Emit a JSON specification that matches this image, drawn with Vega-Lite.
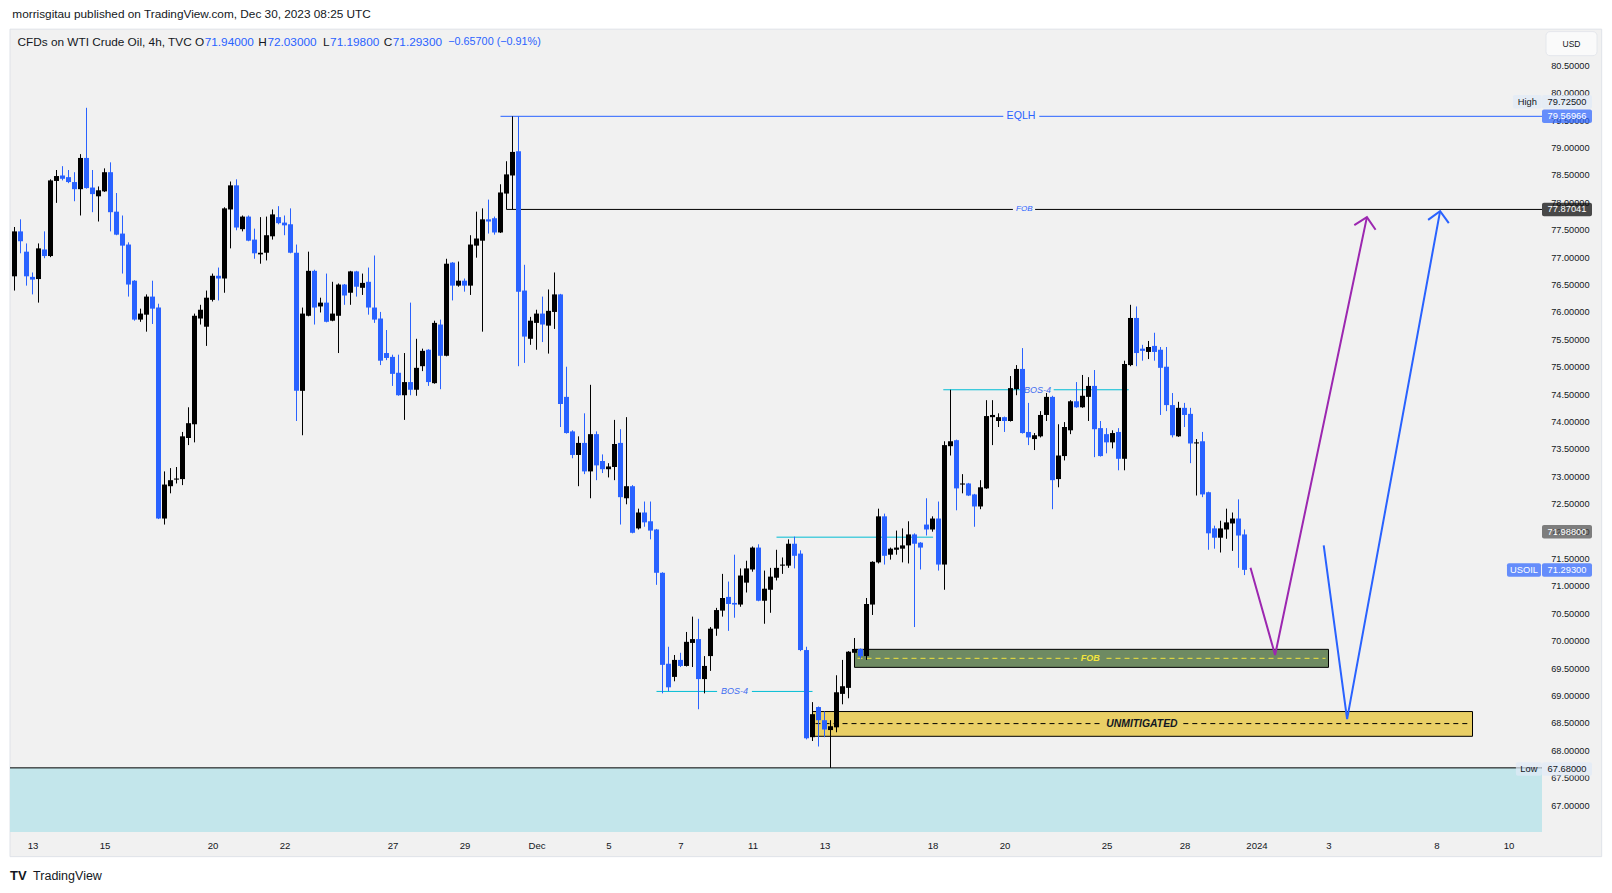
{
"$schema":"https://vega.github.io/schema/vega-lite/v6.json",
"width":1532,"height":802,
"autosize":{"type":"none"},
"padding":{"left":10,"top":30,"right":70,"bottom":61},
"background":"#f1f1f1",
"config":{"view":{"stroke":null},"font":"Liberation Sans","scale":{"continuousPadding":0},"axis":{"labelOverlap":false}},
"datasets":{
"candles":[
{"i":0,"o":76.65,"h":77.55,"l":76.39,"c":77.47},{"i":1,"o":77.47,"h":77.69,"l":77.07,"c":77.29},{"i":2,"o":77.10,"h":77.25,"l":76.48,"c":76.65},{"i":3,"o":76.64,"h":76.72,"l":76.32,"c":76.59},{"i":4,"o":76.60,"h":77.25,"l":76.17,"c":77.16},{"i":5,"o":77.14,"h":77.47,"l":76.98,"c":77.02},{"i":6,"o":77.02,"h":78.42,"l":77.00,"c":78.40},{"i":7,"o":78.39,"h":78.59,"l":77.99,"c":78.48},{"i":8,"o":78.49,"h":78.66,"l":78.40,"c":78.43},{"i":9,"o":78.46,"h":78.59,"l":78.35,"c":78.37},
{"i":10,"o":78.37,"h":78.55,"l":78.02,"c":78.24},{"i":11,"o":78.24,"h":78.88,"l":77.76,"c":78.81},{"i":12,"o":78.81,"h":79.725,"l":78.25,"c":78.26},{"i":13,"o":78.27,"h":78.59,"l":77.82,"c":78.15},{"i":14,"o":78.11,"h":78.29,"l":77.65,"c":78.22},{"i":15,"o":78.20,"h":78.62,"l":78.19,"c":78.55},{"i":16,"o":78.55,"h":78.73,"l":77.47,"c":77.82},{"i":17,"o":77.83,"h":78.17,"l":77.40,"c":77.41},{"i":18,"o":77.43,"h":77.76,"l":76.70,"c":77.21},{"i":19,"o":77.23,"h":77.27,"l":76.28,"c":76.50},
{"i":20,"o":76.57,"h":76.58,"l":75.84,"c":75.86},{"i":21,"o":75.86,"h":76.06,"l":75.82,"c":75.97},{"i":22,"o":75.95,"h":76.32,"l":75.64,"c":76.28},{"i":23,"o":76.28,"h":76.57,"l":75.78,"c":76.06},{"i":24,"o":76.08,"h":76.15,"l":72.22,"c":72.23},{"i":25,"o":72.23,"h":73.09,"l":72.12,"c":72.85},{"i":26,"o":72.82,"h":73.15,"l":72.69,"c":72.93},{"i":27,"o":72.94,"h":73.17,"l":72.87,"c":72.96},{"i":28,"o":72.95,"h":73.81,"l":72.84,"c":73.73},{"i":29,"o":73.70,"h":74.26,"l":73.57,"c":73.97},
{"i":30,"o":73.95,"h":75.97,"l":73.62,"c":75.93},{"i":31,"o":75.88,"h":76.13,"l":75.77,"c":76.04},{"i":32,"o":75.73,"h":76.39,"l":75.38,"c":76.26},{"i":33,"o":76.22,"h":76.70,"l":76.19,"c":76.66},{"i":34,"o":76.66,"h":76.81,"l":76.21,"c":76.61},{"i":35,"o":76.61,"h":77.91,"l":76.35,"c":77.89},{"i":36,"o":77.87,"h":78.38,"l":77.16,"c":78.31},{"i":37,"o":78.31,"h":78.42,"l":77.49,"c":77.54},{"i":38,"o":77.51,"h":77.76,"l":77.47,"c":77.74},{"i":39,"o":77.74,"h":77.76,"l":77.29,"c":77.30},
{"i":40,"o":77.32,"h":77.52,"l":76.97,"c":77.07},{"i":41,"o":77.05,"h":77.73,"l":76.88,"c":77.08},{"i":42,"o":77.08,"h":77.74,"l":76.94,"c":77.40},{"i":43,"o":77.38,"h":77.87,"l":77.32,"c":77.78},{"i":44,"o":77.73,"h":77.93,"l":77.60,"c":77.62},{"i":45,"o":77.63,"h":77.76,"l":77.40,"c":77.58},{"i":46,"o":77.60,"h":77.89,"l":77.07,"c":77.08},{"i":47,"o":77.08,"h":77.23,"l":74.01,"c":74.56},{"i":48,"o":74.56,"h":76.08,"l":73.75,"c":75.97},{"i":49,"o":75.93,"h":77.10,"l":75.92,"c":76.75},
{"i":50,"o":76.75,"h":76.77,"l":75.77,"c":76.08},{"i":51,"o":76.10,"h":76.26,"l":75.99,"c":76.17},{"i":52,"o":76.17,"h":76.70,"l":75.81,"c":75.82},{"i":53,"o":75.84,"h":76.55,"l":75.83,"c":75.97},{"i":54,"o":75.93,"h":76.52,"l":75.25,"c":76.50},{"i":55,"o":76.50,"h":76.51,"l":76.13,"c":76.30},{"i":56,"o":76.35,"h":76.75,"l":76.13,"c":76.74},{"i":57,"o":76.74,"h":76.75,"l":76.28,"c":76.46},{"i":58,"o":76.44,"h":76.70,"l":76.31,"c":76.53},{"i":59,"o":76.55,"h":76.81,"l":75.95,"c":76.08},
{"i":60,"o":76.08,"h":77.03,"l":75.80,"c":75.86},{"i":61,"o":75.88,"h":76.00,"l":75.03,"c":75.11},{"i":62,"o":75.25,"h":75.67,"l":75.12,"c":75.16},{"i":63,"o":75.18,"h":75.22,"l":74.65,"c":74.87},{"i":64,"o":74.89,"h":75.22,"l":74.47,"c":74.48},{"i":65,"o":74.48,"h":75.25,"l":74.03,"c":74.72},{"i":66,"o":74.72,"h":76.17,"l":74.48,"c":74.58},{"i":67,"o":74.58,"h":75.51,"l":74.47,"c":74.98},{"i":68,"o":75.01,"h":75.33,"l":74.92,"c":75.29},{"i":69,"o":75.31,"h":75.32,"l":74.65,"c":74.72},
{"i":70,"o":74.70,"h":75.84,"l":74.69,"c":75.80},{"i":71,"o":75.77,"h":75.86,"l":74.59,"c":75.20},{"i":72,"o":75.20,"h":76.97,"l":75.19,"c":76.88},{"i":73,"o":76.90,"h":76.91,"l":76.21,"c":76.48},{"i":74,"o":76.48,"h":76.92,"l":76.46,"c":76.57},{"i":75,"o":76.57,"h":76.61,"l":76.37,"c":76.48},{"i":76,"o":76.48,"h":77.40,"l":76.31,"c":77.23},{"i":77,"o":77.21,"h":77.83,"l":76.99,"c":77.34},{"i":78,"o":77.30,"h":77.89,"l":75.64,"c":77.69},{"i":79,"o":77.69,"h":78.05,"l":77.43,"c":77.65},
{"i":80,"o":77.71,"h":77.74,"l":77.41,"c":77.45},{"i":81,"o":77.45,"h":78.33,"l":77.44,"c":78.18},{"i":82,"o":78.16,"h":78.75,"l":77.87,"c":78.51},{"i":83,"o":78.49,"h":79.57,"l":77.87,"c":78.92},{"i":84,"o":78.93,"h":79.57,"l":75.01,"c":76.37},{"i":85,"o":76.39,"h":76.86,"l":75.07,"c":75.55},{"i":86,"o":75.51,"h":75.91,"l":75.40,"c":75.84},{"i":87,"o":75.80,"h":76.04,"l":75.31,"c":75.97},{"i":88,"o":75.97,"h":76.28,"l":75.45,"c":75.77},{"i":89,"o":75.75,"h":76.41,"l":75.24,"c":76.02},
{"i":90,"o":76.00,"h":76.72,"l":75.69,"c":76.32},{"i":91,"o":76.32,"h":76.33,"l":73.90,"c":74.32},{"i":92,"o":74.45,"h":75.00,"l":73.78,"c":73.79},{"i":93,"o":73.82,"h":73.84,"l":73.33,"c":73.39},{"i":94,"o":73.39,"h":73.73,"l":72.82,"c":73.61},{"i":95,"o":73.61,"h":74.15,"l":73.04,"c":73.09},{"i":96,"o":73.09,"h":74.67,"l":72.60,"c":73.77},{"i":97,"o":73.77,"h":73.82,"l":72.93,"c":73.20},{"i":98,"o":73.28,"h":73.40,"l":73.06,"c":73.13},{"i":99,"o":73.13,"h":73.24,"l":72.98,"c":73.18},
{"i":100,"o":73.17,"h":74.03,"l":72.93,"c":73.59},{"i":101,"o":73.61,"h":73.86,"l":72.12,"c":72.62},{"i":102,"o":72.60,"h":74.08,"l":72.49,"c":72.82},{"i":103,"o":72.82,"h":72.84,"l":71.96,"c":71.97},{"i":104,"o":72.05,"h":72.41,"l":72.03,"c":72.34},{"i":105,"o":72.34,"h":72.54,"l":72.08,"c":72.16},{"i":106,"o":72.18,"h":72.54,"l":71.85,"c":72.01},{"i":107,"o":72.03,"h":72.04,"l":71.02,"c":71.24},{"i":108,"o":71.24,"h":71.25,"l":69.04,"c":69.56},{"i":109,"o":69.58,"h":69.89,"l":69.08,"c":69.15},
{"i":110,"o":69.34,"h":69.74,"l":69.26,"c":69.65},{"i":111,"o":69.65,"h":69.78,"l":69.52,"c":69.54},{"i":112,"o":69.54,"h":70.16,"l":69.53,"c":69.98},{"i":113,"o":69.96,"h":70.44,"l":69.52,"c":70.03},{"i":114,"o":70.03,"h":70.40,"l":68.75,"c":69.30},{"i":115,"o":69.30,"h":69.72,"l":69.04,"c":69.54},{"i":116,"o":69.72,"h":70.25,"l":69.45,"c":70.22},{"i":117,"o":70.22,"h":70.60,"l":70.09,"c":70.56},{"i":118,"o":70.55,"h":71.22,"l":70.44,"c":70.78},{"i":119,"o":70.80,"h":71.08,"l":70.18,"c":70.67},
{"i":120,"o":70.69,"h":71.57,"l":70.42,"c":70.66},{"i":121,"o":70.66,"h":71.32,"l":70.62,"c":71.19},{"i":122,"o":71.06,"h":71.46,"l":70.88,"c":71.32},{"i":123,"o":71.30,"h":71.72,"l":71.26,"c":71.70},{"i":124,"o":71.70,"h":71.76,"l":70.72,"c":70.73},{"i":125,"o":70.73,"h":71.28,"l":70.31,"c":70.95},{"i":126,"o":70.93,"h":71.33,"l":70.51,"c":71.17},{"i":127,"o":71.15,"h":71.66,"l":71.10,"c":71.33},{"i":128,"o":71.37,"h":71.52,"l":71.22,"c":71.39},{"i":129,"o":71.37,"h":71.85,"l":71.33,"c":71.77},
{"i":130,"o":71.77,"h":71.90,"l":71.32,"c":71.55},{"i":131,"o":71.59,"h":71.65,"l":69.81,"c":69.83},{"i":132,"o":69.83,"h":69.89,"l":68.20,"c":68.22},{"i":133,"o":68.24,"h":68.88,"l":68.17,"c":68.66},{"i":134,"o":68.79,"h":68.80,"l":68.07,"c":68.55},{"i":135,"o":68.55,"h":68.71,"l":68.24,"c":68.38},{"i":136,"o":68.37,"h":68.55,"l":67.68,"c":68.44},{"i":137,"o":68.42,"h":69.37,"l":68.33,"c":69.06},{"i":138,"o":69.03,"h":69.65,"l":68.84,"c":69.17},{"i":139,"o":69.14,"h":69.81,"l":68.95,"c":69.80},
{"i":140,"o":69.78,"h":70.05,"l":69.77,"c":69.85},{"i":141,"o":69.85,"h":69.86,"l":69.67,"c":69.72},{"i":142,"o":69.72,"h":70.78,"l":69.65,"c":70.67},{"i":143,"o":70.66,"h":71.45,"l":70.47,"c":71.44},{"i":144,"o":71.43,"h":72.41,"l":71.41,"c":72.27},{"i":145,"o":72.27,"h":72.32,"l":71.39,"c":71.55},{"i":146,"o":71.57,"h":71.70,"l":71.48,"c":71.68},{"i":147,"o":71.66,"h":72.01,"l":71.57,"c":71.70},{"i":148,"o":71.68,"h":72.05,"l":71.43,"c":71.74},{"i":149,"o":71.74,"h":72.18,"l":71.41,"c":71.94},
{"i":150,"o":71.94,"h":71.96,"l":70.25,"c":71.77},{"i":151,"o":71.79,"h":71.80,"l":71.30,"c":71.70},{"i":152,"o":72.12,"h":72.60,"l":71.92,"c":72.03},{"i":153,"o":72.03,"h":72.27,"l":71.99,"c":72.23},{"i":154,"o":72.23,"h":72.54,"l":71.28,"c":71.39},{"i":155,"o":71.39,"h":73.64,"l":70.93,"c":73.57},{"i":156,"o":73.55,"h":74.58,"l":73.38,"c":73.64},{"i":157,"o":73.66,"h":73.67,"l":72.38,"c":72.78},{"i":158,"o":72.85,"h":73.04,"l":72.69,"c":72.87},{"i":159,"o":72.87,"h":72.88,"l":72.64,"c":72.65},
{"i":160,"o":72.67,"h":72.68,"l":72.08,"c":72.45},{"i":161,"o":72.45,"h":72.93,"l":72.40,"c":72.80},{"i":162,"o":72.78,"h":74.39,"l":72.77,"c":74.10},{"i":163,"o":74.08,"h":74.39,"l":73.57,"c":74.12},{"i":164,"o":74.01,"h":74.15,"l":73.90,"c":74.08},{"i":165,"o":74.08,"h":74.09,"l":73.81,"c":74.01},{"i":166,"o":74.01,"h":74.83,"l":74.00,"c":74.61},{"i":167,"o":74.59,"h":75.03,"l":74.48,"c":74.96},{"i":168,"o":74.96,"h":75.34,"l":73.78,"c":73.79},{"i":169,"o":73.81,"h":74.34,"l":73.57,"c":73.71},
{"i":170,"o":73.68,"h":73.79,"l":73.48,"c":73.75},{"i":171,"o":73.73,"h":74.19,"l":73.71,"c":74.12},{"i":172,"o":74.12,"h":74.52,"l":74.01,"c":74.45},{"i":173,"o":74.45,"h":74.47,"l":72.40,"c":72.93},{"i":174,"o":72.95,"h":73.95,"l":72.80,"c":73.38},{"i":175,"o":73.37,"h":73.99,"l":73.29,"c":73.90},{"i":176,"o":73.84,"h":74.39,"l":73.77,"c":74.37},{"i":177,"o":74.37,"h":74.72,"l":74.25,"c":74.26},{"i":178,"o":74.26,"h":74.85,"l":74.25,"c":74.47},{"i":179,"o":74.45,"h":74.81,"l":74.01,"c":74.65},
{"i":180,"o":74.65,"h":74.94,"l":73.35,"c":73.86},{"i":181,"o":73.88,"h":74.01,"l":73.36,"c":73.37},{"i":182,"o":73.77,"h":73.88,"l":73.42,"c":73.62},{"i":183,"o":73.62,"h":73.84,"l":73.51,"c":73.79},{"i":184,"o":73.81,"h":73.88,"l":73.11,"c":73.32},{"i":185,"o":73.32,"h":75.11,"l":73.11,"c":75.05},{"i":186,"o":75.03,"h":76.13,"l":75.01,"c":75.89},{"i":187,"o":75.89,"h":76.10,"l":75.01,"c":75.25},{"i":188,"o":75.33,"h":75.40,"l":75.11,"c":75.29},{"i":189,"o":75.27,"h":75.47,"l":75.14,"c":75.36},
{"i":190,"o":75.38,"h":75.62,"l":75.11,"c":75.27},{"i":191,"o":75.31,"h":75.36,"l":74.12,"c":74.98},{"i":192,"o":75.00,"h":75.36,"l":74.19,"c":74.30},{"i":193,"o":74.30,"h":74.52,"l":73.71,"c":73.75},{"i":194,"o":73.73,"h":74.36,"l":73.72,"c":74.25},{"i":195,"o":74.25,"h":74.34,"l":73.90,"c":74.12},{"i":196,"o":74.14,"h":74.25,"l":73.24,"c":73.60},{"i":197,"o":73.60,"h":73.68,"l":72.65,"c":73.62},{"i":198,"o":73.64,"h":73.81,"l":72.62,"c":72.67},{"i":199,"o":72.71,"h":72.72,"l":71.66,"c":71.96},
{"i":200,"o":72.05,"h":72.10,"l":71.68,"c":71.88},{"i":201,"o":71.88,"h":72.19,"l":71.61,"c":72.05},{"i":202,"o":72.03,"h":72.41,"l":71.86,"c":72.16},{"i":203,"o":72.14,"h":72.34,"l":71.64,"c":72.23},{"i":204,"o":72.23,"h":72.58,"l":71.33,"c":71.92},{"i":205,"o":71.94,"h":72.03,"l":71.198,"c":71.293}
],
"hl":[
{"a":81,"b":164.8,"y":79.56966,"k":"eqlh"},{"a":170.8,"b":254.583,"y":79.56966,"k":"eqlh"},
{"a":82,"b":166.4,"y":77.87041,"k":"fob"},{"a":170.1,"b":254.583,"y":77.87041,"k":"fob"},
{"a":107,"b":117.1,"y":69.075,"k":"bos"},{"a":122.9,"b":133,"y":69.075,"k":"bos"},
{"a":127,"b":153.1,"y":71.89,"k":"bos"},
{"a":154.8,"b":168.1,"y":74.58,"k":"bos"},{"a":173.2,"b":185.7,"y":74.58,"k":"bos"},
{"a":-0.75,"b":254.583,"y":67.68,"k":"low"}
],
"dash":[
{"a":140.5,"b":177.1,"y":69.679,"k":"fob"},{"a":182,"b":218.5,"y":69.679,"k":"fob"},
{"a":133.5,"b":180.9,"y":68.488,"k":"um"},{"a":194.8,"b":242.5,"y":68.488,"k":"um"}
],
"boxes":[
{"a":140,"b":219,"lo":69.514,"hi":69.843,"k":"fob"},
{"a":133,"b":243,"lo":68.256,"hi":68.708,"k":"um"}
],
"paths":[
{"g":"pm","k":"p","o":0,"x":206.0,"y":71.33},{"g":"pm","k":"p","o":1,"x":210.1,"y":69.74},{"g":"pm","k":"p","o":2,"x":225.4,"y":77.73},
{"g":"pa","k":"p","o":0,"x":223.3,"y":77.585},{"g":"pa","k":"p","o":1,"x":225.4,"y":77.73},{"g":"pa","k":"p","o":2,"x":226.85,"y":77.50},
{"g":"bm","k":"b","o":0,"x":218.2,"y":71.74},{"g":"bm","k":"b","o":1,"x":222.1,"y":68.57},{"g":"bm","k":"b","o":2,"x":237.6,"y":77.84},
{"g":"ba","k":"b","o":0,"x":235.6,"y":77.68},{"g":"ba","k":"b","o":1,"x":237.6,"y":77.84},{"g":"ba","k":"b","o":2,"x":239.05,"y":77.62}
],
"texts":[
{"t":167.75,"p":79.57,"s":"EQLH","k":"eqlh"},
{"t":168.3,"p":77.87,"s":"FOB","k":"fobl"},
{"t":120,"p":69.075,"s":"BOS-4","k":"bos"},
{"t":170.5,"p":74.58,"s":"BOS-4","k":"bos"},
{"t":179.3,"p":69.679,"s":"FOB","k":"fobb"},
{"t":187.9,"p":68.488,"s":"UNMITIGATED","k":"um"},
{"t":-0.36,"p":81.43,"s":"morrisgitau published on TradingView.com, Dec 30, 2023 08:25 UTC","k":"dark"},
{"t":0.5,"p":80.93,"s":"CFDs on WTI Crude Oil, 4h, TVC","k":"dark"},
{"t":31.6,"p":80.93,"s":"O","k":"letter"},
{"t":31.7,"p":80.93,"s":"71.94000","k":"blue"},
{"t":42.05,"p":80.93,"s":"H","k":"letter"},
{"t":42.15,"p":80.93,"s":"72.03000","k":"blue"},
{"t":52.5,"p":80.93,"s":"L","k":"letter"},
{"t":52.6,"p":80.93,"s":"71.19800","k":"blue"},
{"t":62.95,"p":80.93,"s":"C","k":"letter"},
{"t":63.05,"p":80.93,"s":"71.29300","k":"blue"},
{"t":72.3,"p":80.93,"s":"−0.65700 (−0.91%)","k":"blue2"},
{"t":3.1,"p":65.70,"s":"TradingView","k":"logo"},
{"t":-0.75,"p":65.70,"s":"TV","k":"logomark"}
],
"tags":[
{"p":79.837,"s":"79.72500","k":"light"},
{"p":79.56966,"s":"79.56966","k":"blue"},
{"p":77.87041,"s":"77.87041","k":"black"},
{"p":71.988,"s":"71.98800","k":"gray"},
{"p":71.293,"s":"71.29300","k":"blue"},
{"p":67.66,"s":"67.68000","k":"light"}
],
"names":[
{"t":252.15,"p":79.837,"s":"High","k":"light"},
{"t":251.58,"p":71.293,"s":"USOIL","k":"blue"},
{"t":252.4,"p":67.66,"s":"Low","k":"light"}
]
},
"layer":[
{"data":{"values":[{}]},"mark":{"type":"rect","color":"#ffffff","clip":false},
 "encoding":{"x":{"datum":-2.5,"type":"quantitative","scale":{"domain":[-0.75,254.583],"nice":false,"zero":false,"padding":0}},"x2":{"datum":266.5},
 "y":{"datum":81.16,"type":"quantitative","scale":{"domain":[66.5098,81.1448],"nice":false,"zero":false,"padding":0}},"y2":{"datum":81.8}}},
{"data":{"values":[{}]},"mark":{"type":"rect","color":"#ffffff","clip":false},
 "encoding":{"x":{"datum":-2.5,"type":"quantitative"},"x2":{"datum":266.5},
 "y":{"datum":66.06,"type":"quantitative"},"y2":{"datum":65.2}}},
{"data":{"values":[{}]},"mark":{"type":"rect","color":"#ffffff","clip":false},
 "encoding":{"x":{"datum":-2.5,"type":"quantitative"},"x2":{"datum":-0.75},
 "y":{"datum":65.2,"type":"quantitative"},"y2":{"datum":81.8}}},
{"data":{"values":[{}]},"mark":{"type":"rect","color":"#ffffff","clip":false},
 "encoding":{"x":{"datum":264.53,"type":"quantitative"},"x2":{"datum":266.5},
 "y":{"datum":65.2,"type":"quantitative"},"y2":{"datum":81.8}}},
{"data":{"values":[{}]},"mark":{"type":"rect","filled":false,"color":"#dfe2e8","strokeWidth":1,"clip":false},
 "encoding":{"x":{"datum":-0.75,"type":"quantitative"},"x2":{"datum":264.53},
 "y":{"datum":66.06,"type":"quantitative"},"y2":{"datum":81.16}}},
{"data":{"values":[{}]},"mark":{"type":"rect","color":"#c3e6eb"},
 "encoding":{"x":{"datum":-0.75,"type":"quantitative"},"x2":{"datum":254.583},
 "y":{"datum":66.5098,"type":"quantitative"},"y2":{"datum":67.68}}},
{"data":{"name":"boxes"},"mark":{"type":"rect","stroke":"#000000","strokeWidth":1},
 "encoding":{"x":{"field":"a","type":"quantitative"},"x2":{"field":"b"},
 "y":{"field":"lo","type":"quantitative"},"y2":{"field":"hi"},
 "fill":{"condition":{"test":"datum.k=='fob'","value":"#6e8a62"},"value":"#e9cf66"}}},
{"data":{"name":"hl"},"mark":{"type":"rule","strokeWidth":1},
 "encoding":{"x":{"field":"a","type":"quantitative"},"x2":{"field":"b"},
 "y":{"field":"y","type":"quantitative"},
 "color":{"condition":[{"test":"datum.k=='eqlh'","value":"#2962ff"},{"test":"datum.k=='bos'","value":"#00bcd4"}],"value":"#000000"}}},
{"data":{"name":"dash"},"mark":{"type":"rule","strokeWidth":1,"strokeDash":[5,4]},
 "encoding":{"x":{"field":"a","type":"quantitative"},"x2":{"field":"b"},
 "y":{"field":"y","type":"quantitative"},
 "color":{"condition":{"test":"datum.k=='fob'","value":"#f3e53c"},"value":"#000000"}}},
{"data":{"name":"candles"},"mark":{"type":"rule","strokeWidth":1},
 "encoding":{
  "x":{"field":"i","type":"quantitative","axis":{"title":null,"orient":"bottom","values":[3,15,33,45,63,75,87,99,111,123,135,153,165,182,195,207,219,237,249],"tickCount":60,
   "labelExpr":"['13','15','20','22','27','29','Dec','5','7','11','13','18','20','25','28','2024','3','8','10'][indexof([3,15,33,45,63,75,87,99,111,123,135,153,165,182,195,207,219,237,249], datum.value)]",
   "grid":false,"ticks":false,"tickSize":0,"domain":false,"labelFontSize":9.6,"labelColor":"#131722","labelPadding":8,"labelFont":"Liberation Sans","labelFlush":false,"labelOverlap":false,"labelAngle":0}},
  "y":{"field":"l","type":"quantitative","axis":{"title":null,"orient":"right","values":[67,67.5,68,68.5,69,69.5,70,70.5,71,71.5,72,72.5,73,73.5,74,74.5,75,75.5,76,76.5,77,77.5,78,78.5,79,79.5,80,80.5],"tickCount":60,
   "format":".5f","grid":false,"ticks":false,"tickSize":0,"domain":false,"labelFontSize":9.2,"labelColor":"#131722","labelPadding":47,"labelAlign":"right","labelFont":"Liberation Sans","labelFlush":false,"labelOverlap":false}},
  "y2":{"field":"h"},
  "color":{"condition":{"test":"datum.c >= datum.o","value":"#000000"},"value":"#2962ff"}}},
{"data":{"name":"candles"},"mark":{"type":"bar","width":5},
 "encoding":{"x":{"field":"i","type":"quantitative"},
  "y":{"field":"o","type":"quantitative"},"y2":{"field":"c"},
  "color":{"condition":{"test":"datum.c >= datum.o","value":"#000000"},"value":"#2962ff"}}},
{"data":{"name":"texts"},"transform":[{"filter":"datum.k=='eqlh'"}],
 "mark":{"type":"text","fontSize":10.6,"color":"#2962ff","align":"center","baseline":"middle"},
 "encoding":{"x":{"field":"t","type":"quantitative"},"y":{"field":"p","type":"quantitative"},"text":{"field":"s"}}},
{"data":{"name":"texts"},"transform":[{"filter":"datum.k=='fobl'"}],
 "mark":{"type":"text","fontSize":8,"fontStyle":"italic","color":"#2962ff","align":"center","baseline":"middle"},
 "encoding":{"x":{"field":"t","type":"quantitative"},"y":{"field":"p","type":"quantitative"},"text":{"field":"s"}}},
{"data":{"name":"texts"},"transform":[{"filter":"datum.k=='bos'"}],
 "mark":{"type":"text","fontSize":9,"fontStyle":"italic","color":"#3d6cf0","align":"center","baseline":"middle"},
 "encoding":{"x":{"field":"t","type":"quantitative"},"y":{"field":"p","type":"quantitative"},"text":{"field":"s"}}},
{"data":{"name":"texts"},"transform":[{"filter":"datum.k=='fobb'"}],
 "mark":{"type":"text","fontSize":9,"fontStyle":"italic","fontWeight":"bold","color":"#f3e53c","align":"center","baseline":"middle"},
 "encoding":{"x":{"field":"t","type":"quantitative"},"y":{"field":"p","type":"quantitative"},"text":{"field":"s"}}},
{"data":{"name":"texts"},"transform":[{"filter":"datum.k=='um'"}],
 "mark":{"type":"text","fontSize":10.4,"fontStyle":"italic","fontWeight":"bold","color":"#131722","align":"center","baseline":"middle"},
 "encoding":{"x":{"field":"t","type":"quantitative"},"y":{"field":"p","type":"quantitative"},"text":{"field":"s"}}},
{"data":{"name":"texts"},"transform":[{"filter":"datum.k=='dark' || datum.k=='blue'"}],
 "mark":{"type":"text","fontSize":11.8,"align":"left","baseline":"middle","clip":false},
 "encoding":{"x":{"field":"t","type":"quantitative"},"y":{"field":"p","type":"quantitative"},"text":{"field":"s"},
  "color":{"condition":{"test":"datum.k=='blue'","value":"#2962ff"},"value":"#131722"}}},
{"data":{"name":"texts"},"transform":[{"filter":"datum.k=='blue2'"}],
 "mark":{"type":"text","fontSize":10.8,"align":"left","baseline":"middle","color":"#2962ff"},
 "encoding":{"x":{"field":"t","type":"quantitative"},"y":{"field":"p","type":"quantitative"},"text":{"field":"s"}}},
{"data":{"name":"texts"},"transform":[{"filter":"datum.k=='letter'"}],
 "mark":{"type":"text","fontSize":11.8,"align":"right","baseline":"middle","color":"#131722"},
 "encoding":{"x":{"field":"t","type":"quantitative"},"y":{"field":"p","type":"quantitative"},"text":{"field":"s"}}},
{"data":{"name":"texts"},"transform":[{"filter":"datum.k=='logo'"}],
 "mark":{"type":"text","fontSize":12.5,"align":"left","baseline":"middle","color":"#131722","clip":false},
 "encoding":{"x":{"field":"t","type":"quantitative"},"y":{"field":"p","type":"quantitative"},"text":{"field":"s"}}},
{"data":{"name":"texts"},"transform":[{"filter":"datum.k=='logomark'"}],
 "mark":{"type":"text","fontSize":13,"fontWeight":"bold","align":"left","baseline":"middle","color":"#131722","clip":false},
 "encoding":{"x":{"field":"t","type":"quantitative"},"y":{"field":"p","type":"quantitative"},"text":{"field":"s"}}},
{"data":{"name":"paths"},"mark":{"type":"line","strokeWidth":2,"clip":false},
 "encoding":{"x":{"field":"x","type":"quantitative"},"y":{"field":"y","type":"quantitative"},
  "detail":{"field":"g"},"order":{"field":"o"},
  "color":{"condition":{"test":"datum.k=='p'","value":"#9c27b0"},"value":"#2962ff"}}},
{"data":{"name":"tags"},"mark":{"type":"tick","orient":"horizontal","thickness":13.5,"clip":false,"cornerRadius":2},
 "encoding":{"x":{"datum":258.75,"type":"quantitative"},"y":{"field":"p","type":"quantitative"},"size":{"value":50},
  "color":{"condition":[{"test":"datum.k=='light'","value":"#dfe9f7"},{"test":"datum.k=='blue'","value":"#2962ff"},{"test":"datum.k=='black'","value":"#000000"}],"value":"#4c4c4c"}}},
{"data":{"name":"names"},"transform":[{"filter":"datum.s=='High'"}],"mark":{"type":"tick","orient":"horizontal","thickness":13.5,"clip":false,"cornerRadius":2,"color":"#dfe9f7"},
 "encoding":{"x":{"field":"t","type":"quantitative"},"y":{"field":"p","type":"quantitative"},"size":{"value":29}}},
{"data":{"name":"names"},"transform":[{"filter":"datum.s=='USOIL'"}],"mark":{"type":"tick","orient":"horizontal","thickness":13.5,"clip":false,"cornerRadius":2,"color":"#2962ff"},
 "encoding":{"x":{"field":"t","type":"quantitative"},"y":{"field":"p","type":"quantitative"},"size":{"value":34}}},
{"data":{"name":"names"},"transform":[{"filter":"datum.s=='Low'"}],"mark":{"type":"tick","orient":"horizontal","thickness":13.5,"clip":false,"cornerRadius":2,"color":"#dfe9f7"},
 "encoding":{"x":{"field":"t","type":"quantitative"},"y":{"field":"p","type":"quantitative"},"size":{"value":26}}},
{"data":{"name":"tags"},"mark":{"type":"text","fontSize":9.3,"align":"center","baseline":"middle","clip":false},
 "encoding":{"x":{"datum":258.75,"type":"quantitative"},"y":{"field":"p","type":"quantitative"},"text":{"field":"s"},
  "color":{"condition":{"test":"datum.k=='light'","value":"#131722"},"value":"#ffffff"}}},
{"data":{"name":"names"},"mark":{"type":"text","fontSize":9.3,"align":"center","baseline":"middle","clip":false},
 "encoding":{"x":{"field":"t","type":"quantitative"},"y":{"field":"p","type":"quantitative"},"text":{"field":"s"},
  "color":{"condition":{"test":"datum.k=='light'","value":"#131722"},"value":"#ffffff"}}},
{"data":{"values":[{"s":"USD"}]},"mark":{"type":"tick","orient":"horizontal","thickness":24,"clip":false,"cornerRadius":4,"color":"#ffffff","stroke":"#e0e3eb","strokeWidth":1},
 "encoding":{"x":{"datum":259.5,"type":"quantitative"},"y":{"datum":80.896,"type":"quantitative"},"size":{"value":51}}},
{"data":{"values":[{"s":"USD"}]},"mark":{"type":"text","fontSize":8.5,"align":"center","baseline":"middle","color":"#131722","clip":false},
 "encoding":{"x":{"datum":259.5,"type":"quantitative"},"y":{"datum":80.896,"type":"quantitative"},"text":{"field":"s"}}}
]
}
